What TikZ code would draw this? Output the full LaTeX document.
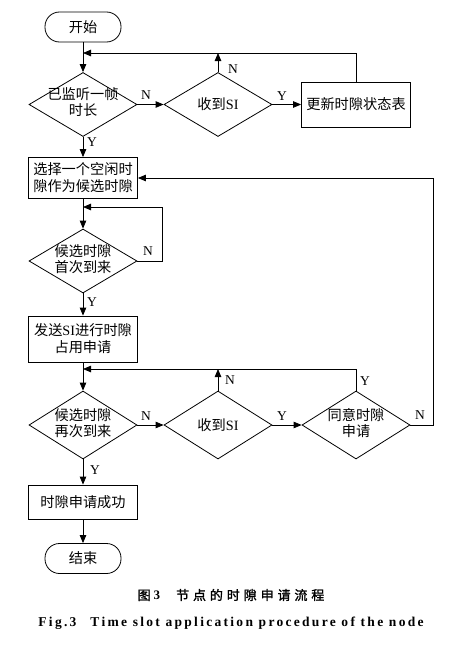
\documentclass[tikz,border=0pt]{standalone}
\usepackage{fontspec}
\setmainfont{Liberation Serif}
\newfontfamily\cjk{Noto Sans CJK SC}
\newfontfamily\cjkcap[FakeBold=1.5,LetterSpace=30]{Noto Sans CJK SC}
\newfontfamily\capfont[LetterSpace=17]{Liberation Serif}
\usetikzlibrary{shapes.geometric,arrows.meta}
\begin{document}
\begin{tikzpicture}[x=1pt,y=-1pt,
  line width=0.8pt,
  every node/.style={font=\cjk\fontsize{14.2}{17}\selectfont},
  term/.style={draw,rectangle,rounded corners=14.5pt,minimum width=76pt,minimum height=30pt,inner sep=0pt},
  proc/.style={draw,rectangle,minimum width=109pt,inner sep=0pt,align=center},
  dia/.style={draw,diamond,minimum width=108pt,minimum height=64pt,inner sep=0pt},
  yn/.style={font=\rmfamily\fontsize{13.5}{15}\selectfont,inner sep=0pt},
  arr/.style={-{Triangle[length=8pt,width=6.5pt]}}
]
\useasboundingbox (0,0) rectangle (463,645);
\fill[white] (0,0) rectangle (463,645);

\node[term] (start) at (83,27) {开始};
\node[dia,label={center:\begin{tabular}{@{}c@{}}已监听一帧\\[-1pt]时长\end{tabular}}] (d1) at (83,104.5) {};
\node[dia,label={center:收到{\rmfamily SI}}] (d2) at (218,104.5) {};
\node[proc,minimum height=45pt] (b1) at (356,104.5) {更新时隙状态表};
\node[proc,minimum height=41pt] (b2) at (83,178) {选择一个空闲时\\隙作为候选时隙};
\node[dia,label={center:\begin{tabular}{@{}c@{}}候选时隙\\[-1pt]首次到来\end{tabular}}] (d3) at (83,261) {};
\node[proc,minimum height=46pt] (b3) at (83,339) {发送{\rmfamily SI}进行时隙\\占用申请};
\node[dia,minimum height=68pt,label={center:\begin{tabular}{@{}c@{}}候选时隙\\[-1pt]再次到来\end{tabular}}] (d4) at (83,425) {};
\node[dia,minimum height=68pt,label={center:收到{\rmfamily SI}}] (d5) at (218,425) {};
\node[dia,minimum height=68pt,label={center:\begin{tabular}{@{}c@{}}同意时隙\\[-1pt]申请\end{tabular}}] (d6) at (356,425) {};
\node[proc,minimum height=34pt] (b4) at (83,502) {时隙申请成功};
\node[term] (end) at (83,558.5) {结束};

\coordinate (j1) at (83,53);
\coordinate (j2) at (83,207);
\coordinate (k2) at (162,261);
\coordinate (j3) at (83,369);
\coordinate (k6) at (433,425);

% top section
\draw[arr] (start) -- (d1);
\draw[arr] (b1.north) |- (j1);
\draw[arr] (d2.north) -- (d2.north |- j1);
\draw[arr] (d1.east) -- (d2.west);
\draw[arr] (d2.east) -- (b1.west);
\draw[arr] (d1.south) -- (b2.north);
\node[yn] at (146,95) {N};
\node[yn] at (282,96) {Y};
\node[yn] at (233,69) {N};
\node[yn] at (92,142) {Y};

% middle section
\draw[arr] (b2.south) -- (d3.north);
\draw[arr] (d3.east) -- (k2) |- (j2);
\node[yn] at (148,251) {N};
\draw[arr] (d3.south) -- (b3.north);
\node[yn] at (92,302) {Y};

% lower section
\draw[arr] (b3.south) -- (d4.north);
\draw[arr] (d6.north) |- (j3);
\draw[arr] (d5.north) -- (d5.north |- j3);
\draw[arr] (d4.east) -- (d5.west);
\draw[arr] (d5.east) -- (d6.west);
\draw[arr] (d6.east) -- (k6) |- (b2.east);
\draw[arr] (d4.south) -- (b4.north);
\draw[arr] (b4.south) -- (end.north);
\node[yn] at (146,416) {N};
\node[yn] at (282,416) {Y};
\node[yn] at (230,380) {N};
\node[yn] at (365,381) {Y};
\node[yn] at (420,415) {N};
\node[yn] at (95,470) {Y};

% captions
\node (cap1) at (231,595) {\cjkcap\fontsize{13}{15}\selectfont 图\hspace{3pt}{\rmfamily\bfseries 3}\hspace{16pt}节点的时隙申请流程};
\node (cap2) at (231,623) {\capfont\bfseries\fontsize{13.5}{15}\selectfont Fig.3\hspace{14pt}Time slot application procedure of the node};
\end{tikzpicture}
\end{document}
